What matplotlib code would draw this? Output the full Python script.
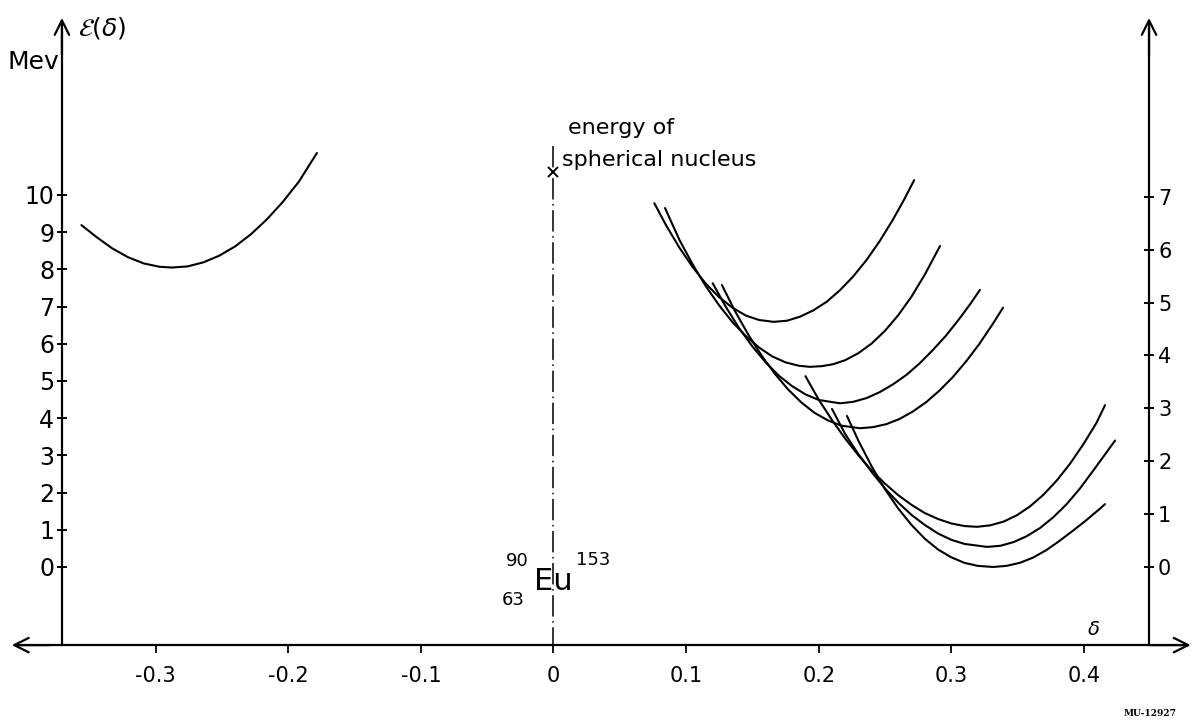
import matplotlib
matplotlib.use("Agg")
import matplotlib.pyplot as plt

plt.rcParams['font.family'] = ['DejaVu Sans']

# ---------------- data ----------------
# oblate branch (negative deformation)
oblate_delta = [-0.356, -0.345, -0.333, -0.321, -0.309, -0.297, -0.2877, -0.276, -0.264,
                -0.252, -0.240, -0.228, -0.216, -0.204, -0.192, -0.1784]
oblate_energy = [9.19, 8.88, 8.57, 8.33, 8.16, 8.07, 8.05, 8.08, 8.19,
                 8.37, 8.62, 8.95, 9.35, 9.82, 10.36, 11.13]

# prolate configurations (upper group)
c1_delta = [0.076, 0.085, 0.095, 0.105, 0.115, 0.125, 0.135, 0.145, 0.155, 0.166, 0.176,
            0.186, 0.196, 0.206, 0.216, 0.226, 0.236, 0.246, 0.256, 0.264, 0.272]
c1_energy = [9.78, 9.18, 8.58, 8.06, 7.61, 7.25, 6.97, 6.76, 6.64, 6.59, 6.62,
             6.73, 6.90, 7.13, 7.44, 7.81, 8.25, 8.76, 9.34, 9.85, 10.40]

c2_delta = [0.0841, 0.095, 0.105, 0.115, 0.125, 0.135, 0.145, 0.155, 0.165, 0.175, 0.185,
            0.1934, 0.2025, 0.2108, 0.22, 0.23, 0.24, 0.25, 0.26, 0.27, 0.28, 0.2915]
c2_energy = [9.65, 8.79, 8.13, 7.54, 7.03, 6.58, 6.21, 5.90, 5.66, 5.50, 5.41,
             5.38, 5.40, 5.45, 5.56, 5.75, 6.01, 6.35, 6.77, 7.27, 7.86, 8.63]

c3_delta = [0.120, 0.13, 0.14, 0.15, 0.16, 0.17, 0.18, 0.19, 0.20, 0.2161, 0.226, 0.236,
            0.246, 0.256, 0.266, 0.276, 0.286, 0.296, 0.306, 0.3145, 0.3216]
c3_energy = [7.63, 6.99, 6.42, 5.93, 5.50, 5.14, 4.86, 4.64, 4.49, 4.40, 4.44, 4.54,
             4.70, 4.91, 5.16, 5.47, 5.83, 6.22, 6.67, 7.08, 7.45]

c4_delta = [0.127, 0.137, 0.147, 0.157, 0.167, 0.177, 0.187, 0.197, 0.207, 0.217, 0.2311,
            0.241, 0.251, 0.261, 0.271, 0.281, 0.291, 0.301, 0.311, 0.321, 0.331, 0.339]
c4_energy = [7.58, 6.87, 6.24, 5.68, 5.19, 4.77, 4.42, 4.14, 3.94, 3.80, 3.73,
             3.76, 3.84, 3.98, 4.18, 4.43, 4.74, 5.10, 5.52, 5.99, 6.52, 6.97]

# prolate configurations (lower group)
l1_delta = [0.19, 0.20, 0.21, 0.22, 0.23, 0.24, 0.25, 0.26, 0.27, 0.28, 0.29, 0.30, 0.31,
            0.3194, 0.3294, 0.3394, 0.3494, 0.3594, 0.3694, 0.3794, 0.3894, 0.3994, 0.4094, 0.4159]
l1_energy = [5.13, 4.50, 3.95, 3.45, 3.00, 2.59, 2.24, 1.93, 1.67, 1.45, 1.29, 1.17, 1.10,
             1.08, 1.12, 1.22, 1.39, 1.63, 1.94, 2.32, 2.77, 3.29, 3.87, 4.35]

l2_delta = [0.21, 0.22, 0.23, 0.24, 0.25, 0.26, 0.27, 0.28, 0.29, 0.30, 0.31, 0.327,
            0.337, 0.347, 0.357, 0.367, 0.377, 0.387, 0.397, 0.407, 0.417, 0.4235]
l2_energy = [4.25, 3.57, 3.03, 2.55, 2.11, 1.73, 1.40, 1.13, 0.90, 0.73, 0.62, 0.54,
             0.57, 0.67, 0.83, 1.05, 1.34, 1.69, 2.11, 2.59, 3.08, 3.40]

l3_delta = [0.2213, 0.23, 0.24, 0.25, 0.26, 0.27, 0.28, 0.29, 0.30, 0.31, 0.32, 0.3315,
            0.3415, 0.3515, 0.3615, 0.3715, 0.3815, 0.3915, 0.4015, 0.4115, 0.4159]
l3_energy = [4.06, 3.39, 2.70, 2.09, 1.57, 1.13, 0.76, 0.47, 0.26, 0.11, 0.03, 0.00,
             0.03, 0.11, 0.25, 0.45, 0.70, 0.97, 1.25, 1.55, 1.69]

# energy of spherical nucleus
sph_delta = 0.0
sph_energy = 10.62

# axes ticks / labels
x_ticks = [-0.3, -0.2, -0.1, 0.0, 0.1, 0.2, 0.3, 0.4]
x_tick_labels = ['-0.3', '-0.2', '-0.1', '0', '0.1', '0.2', '0.3', '0.4']
left_ticks = [0, 1, 2, 3, 4, 5, 6, 7, 8, 9, 10]
left_tick_labels = ['0', '1', '2', '3', '4', '5', '6', '7', '8', '9', '10']
right_ticks = [0, 1, 2, 3, 4, 5, 6, 7]
right_tick_labels = ['0', '1', '2', '3', '4', '5', '6', '7']
right_scale = 1.422  # MeV per unit of the right-hand scale

# ---------------- layout ----------------
XLIM = (-0.4174, 0.4815)
YLIM = (-4.167, 15.242)
LEFT_AX = -0.3707
RIGHT_AX = 0.4491
BOTTOM_AX = -2.1
TOP_AX = 14.76

fig = plt.figure(figsize=(11.92, 7.22), dpi=100)
ax = fig.add_axes([0, 0, 1, 1])
ax.set_xlim(*XLIM)
ax.set_ylim(*YLIM)
ax.patch.set_alpha(0)

LW_AX = 1.6
for s in ['top', 'right']:
    ax.spines[s].set_visible(False)
ax.spines['left'].set_position(('data', LEFT_AX))
ax.spines['left'].set_bounds(BOTTOM_AX, TOP_AX - 0.3)
ax.spines['left'].set_linewidth(LW_AX)
ax.spines['bottom'].set_position(('data', BOTTOM_AX))
ax.spines['bottom'].set_bounds(-0.405, 0.478)
ax.spines['bottom'].set_linewidth(LW_AX)

ax.set_xticks(x_ticks)
ax.set_xticklabels(x_tick_labels)
ax.set_yticks(left_ticks)
ax.set_yticklabels(left_tick_labels)
ax.tick_params(axis='x', direction='out', length=6, width=1.3, labelsize=15, pad=9)
ax.tick_params(axis='y', direction='inout', length=7, width=1.4, labelsize=17, pad=2)

ax2 = ax.twinx()
ax2.set_ylim(YLIM[0] / right_scale, YLIM[1] / right_scale)
ax2.patch.set_alpha(0)
for s in ['top', 'left', 'bottom']:
    ax2.spines[s].set_visible(False)
ax2.spines['right'].set_position(('data', RIGHT_AX))
ax2.spines['right'].set_bounds(BOTTOM_AX / right_scale, (TOP_AX - 0.3) / right_scale)
ax2.spines['right'].set_linewidth(LW_AX)
ax2.set_yticks(right_ticks)
ax2.set_yticklabels(right_tick_labels)
ax2.tick_params(axis='y', direction='inout', length=7, width=1.4, labelsize=15, pad=3)

# arrow heads
arrow_kw = dict(arrowstyle='->', lw=LW_AX, color='black', mutation_scale=26, shrinkA=0, shrinkB=0)
ax.annotate('', xy=(LEFT_AX, TOP_AX), xytext=(LEFT_AX, TOP_AX - 1.0), arrowprops=arrow_kw)
ax.annotate('', xy=(RIGHT_AX, TOP_AX), xytext=(RIGHT_AX, TOP_AX - 1.0), arrowprops=arrow_kw)
ax.annotate('', xy=(-0.4085, BOTTOM_AX), xytext=(-0.38, BOTTOM_AX), arrowprops=arrow_kw)
ax.annotate('', xy=(0.4805, BOTTOM_AX), xytext=(0.45, BOTTOM_AX), arrowprops=arrow_kw)

# curves
curve_kw = dict(color='black', lw=1.5, solid_capstyle='round', solid_joinstyle='round')
ax.plot(oblate_delta, oblate_energy, **curve_kw)
for d, e in [(c1_delta, c1_energy), (c2_delta, c2_energy), (c3_delta, c3_energy),
             (c4_delta, c4_energy), (l1_delta, l1_energy), (l2_delta, l2_energy),
             (l3_delta, l3_energy)]:
    ax.plot(d, e, **curve_kw)

# spherical nucleus reference line
ax.plot([sph_delta, sph_delta], [sph_energy + 0.7, BOTTOM_AX], color='black', lw=1.1,
        linestyle=(0, (14, 3, 1, 3)))
ax.plot([sph_delta], [sph_energy], marker='x', color='black', ms=7, mew=1.4)
ax.text(0.011, 11.8, 'energy of', fontsize=16, ha='left', va='center')
ax.text(0.0064, 10.95, 'spherical nucleus', fontsize=16, ha='left', va='center')

# nucleus label
ax.text(-0.0275, 0.16, '90', fontsize=13, ha='center', va='center')
ax.text(0.0, -0.38, 'Eu', fontsize=22, ha='center', va='center')
ax.text(0.0298, 0.19, '153', fontsize=13, ha='center', va='center')
ax.text(-0.0305, -0.89, '63', fontsize=13, ha='center', va='center')

# axis titles
ax.text(-0.3925, 13.57, 'Mev', fontsize=18, ha='center', va='center')
ax.text(-0.3405, 14.5, r'$\mathcal{E}(\delta)$', fontsize=18, ha='center', va='center')
ax.text(0.407, -1.69, r'$\delta$', fontsize=14, ha='center', va='center')
ax.text(0.45, -3.93, 'MU-12927', fontsize=6.5, ha='center', va='center',
        family='DejaVu Serif', weight='bold')

fig.savefig('out.png', dpi=100)
